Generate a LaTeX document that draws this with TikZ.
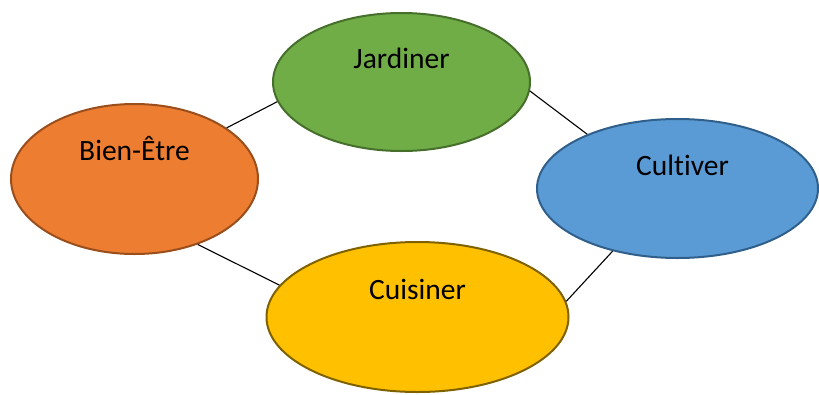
\documentclass[tikz,border=0pt]{standalone}
\usepackage{fontspec}
\setmainfont{Carlito}[Ligatures={NoCommon}]
\usetikzlibrary{shapes.geometric}
\definecolor{jardfill}{HTML}{70AD47}
\definecolor{jardline}{HTML}{466F2C}
\definecolor{bienfill}{HTML}{ED7D31}
\definecolor{bienline}{HTML}{9A4E1C}
\definecolor{cultfill}{HTML}{5B9BD5}
\definecolor{cultline}{HTML}{2F5F8A}
\definecolor{cuisfill}{HTML}{FFC000}
\definecolor{cuisline}{HTML}{7F6200}
\begin{document}
\begin{tikzpicture}[x=1pt, y=-1pt,
  bubble/.style={draw, ellipse, line width=2pt, inner sep=0pt},
  txt/.style={anchor=base, inner sep=0pt, font=\fontsize{29.5}{35}\selectfont}]
\useasboundingbox (0,0) rectangle (819,394);
\node[bubble, fill=jardfill, draw=jardline, minimum width=257pt, minimum height=138pt] (jard) at (401.5,82) {};
\node[bubble, fill=bienfill, draw=bienline, minimum width=247pt, minimum height=150pt] (bien) at (134.5,179) {};
\node[bubble, fill=cultfill, draw=cultline, minimum width=281pt, minimum height=139pt] (cult) at (677.5,188.5) {};
\node[bubble, fill=cuisfill, draw=cuisline, minimum width=302pt, minimum height=150pt] (cuis) at (417.5,317) {};
\node[txt] (jardtxt) at ([yshift=-56pt]jard.north) {Jardiner};
\node[txt] (bientxt) at ([yshift=-57pt]bien.north) {Bien-Être};
\node[txt] (culttxt) at ([xshift=5pt,yshift=-57pt]cult.north) {Cultiver};
\node[txt] (cuistxt) at ([yshift=-58pt]cuis.north) {Cuisiner};
\path[draw,line width=1.1pt] (bien.29.3) -- (jard.189.4);
\path[draw,line width=1.1pt] (jard.356.9) -- (cult.149.3);
\path[draw,line width=1.1pt] (bien.314.8) -- (cuis.167.2);
\path[draw,line width=1.1pt] (cult.224.1) -- (cuis.6.5);
\end{tikzpicture}
\end{document}
